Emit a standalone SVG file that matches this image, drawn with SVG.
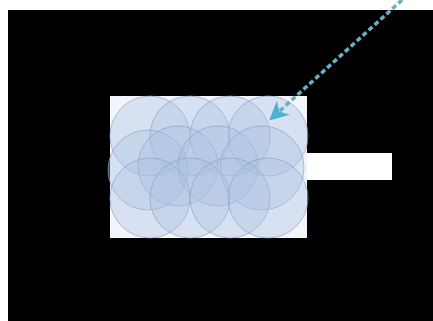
<svg xmlns="http://www.w3.org/2000/svg" width="433" height="321" viewBox="0 0 433 321">
<defs>
<style>
.c{fill:#a9c0e0;fill-opacity:0.36;stroke:#8ea3c4;stroke-opacity:0.7;stroke-width:1}
.conn{fill:none;stroke:#6ab0c2;stroke-width:3.5;stroke-dasharray:5 3}
</style>
<marker id="ah" viewBox="0 0 10 10" refX="8" refY="5" markerWidth="5.5" markerHeight="5.5" orient="auto" markerUnits="strokeWidth">
<path d="M0,0 L10,5 L0,10 L3,5 Z" fill="#4cb3d0"/>
</marker>
</defs>
<rect x="0" y="0" width="433" height="321" fill="#ffffff"/>
<rect x="8" y="10" width="425" height="311" fill="#000000"/>
<g id="panel"><rect x="110" y="96" width="197" height="142" fill="#f2f5fb"/></g>
<g id="bar"><rect x="307" y="153" width="85" height="27" fill="#ffffff"/></g>
<g id="circles">
<circle class="c" cx="150" cy="136" r="40"/>
<circle class="c" cx="190" cy="136" r="40"/>
<circle class="c" cx="230" cy="136" r="40"/>
<circle class="c" cx="268" cy="136" r="40"/>
<circle class="c" cx="148" cy="170" r="40"/>
<circle class="c" cx="178" cy="166" r="40"/>
<circle class="c" cx="218" cy="166" r="40"/>
<circle class="c" cx="262" cy="168" r="42"/>
<circle class="c" cx="150" cy="198" r="40"/>
<circle class="c" cx="190" cy="198" r="40"/>
<circle class="c" cx="230" cy="198" r="40"/>
<circle class="c" cx="268" cy="198" r="40"/>
</g>
<g id="connectors">
<line class="conn" x1="402" y1="0" x2="272" y2="118" marker-end="url(#ah)"/>
</g>
</svg>
